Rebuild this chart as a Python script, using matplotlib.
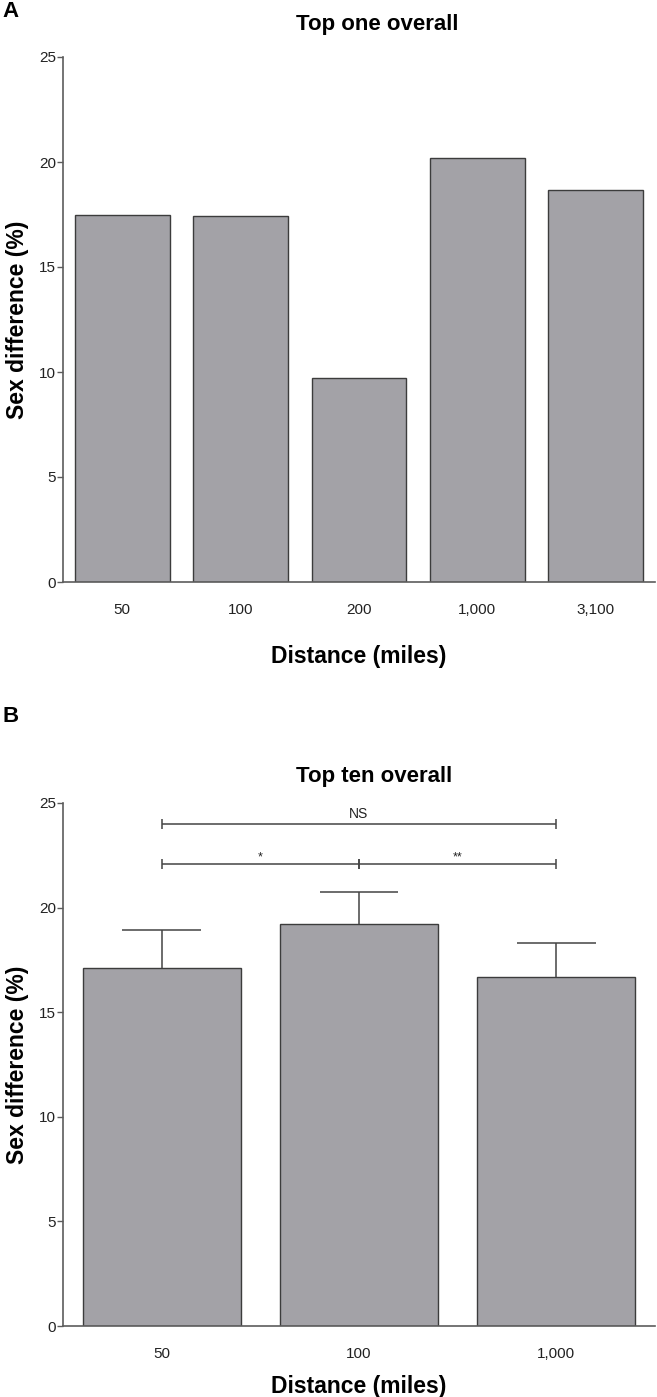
import numpy as np
import matplotlib
matplotlib.use('Agg')
from matplotlib import pyplot as plt

plt.rcParams['font.family'] = ['Liberation Sans', 'DejaVu Sans']

"""Panel A data: top one overall"""
dist_a = ['50', '100', '200', '1,000', '3,100']
diff_a = [17.5, 17.45, 9.72, 20.2, 18.65]

"""Panel B data: top ten overall (mean + upper SD)"""
dist_b = ['50', '100', '1,000']
diff_b = [17.1, 19.2, 16.68]
err_b = [1.85, 1.53, 1.62]

# significance brackets: (from, to, height, label)
brackets = [(0, 2, 24.0, 'NS'), (0, 1, 22.1, '*'), (1, 2, 22.1, '**')]

W, H = 657, 1397
bar_color = '#a3a2a7'
edge_color = '#3c3c3c'
axis_color = '#5c5c5c'

fig = plt.figure(figsize=(W / 100, H / 100), dpi=100)
axA = fig.add_axes([63 / W, 1 - 582 / H, 592 / W, 525 / H])
axB = fig.add_axes([63 / W, 1 - 1326 / H, 592 / W, 523 / H])


def style(ax, labels, xlab_y):
    ax.set_ylim(0, 25)
    ax.set_xlim(-0.5, len(labels) - 0.5)
    ax.set_yticks([0, 5, 10, 15, 20, 25])
    ax.set_xticks(np.arange(len(labels)))
    ax.set_xticklabels(labels)
    for s in ['top', 'right']:
        ax.spines[s].set_visible(False)
    for s in ['left', 'bottom']:
        ax.spines[s].set_color(axis_color)
        ax.spines[s].set_linewidth(1.2)
    ax.tick_params(axis='y', length=4, width=1, color=axis_color, pad=1,
                   labelsize=11, labelcolor='#222222')
    ax.tick_params(axis='x', length=0, pad=15, labelsize=11, labelcolor='#222222')
    ax.set_ylabel('Sex difference (%)', fontsize=16.5, fontweight='bold')
    ax.yaxis.set_label_coords(-0.058, 0.5)
    ax.set_xlabel('Distance (miles)', fontsize=16.5, fontweight='bold', va='top')
    ax.xaxis.set_label_coords(0.5, xlab_y)


"""Panel A"""
xa = np.arange(len(dist_a))
axA.bar(xa, diff_a, width=0.8, color=bar_color, edgecolor=edge_color, linewidth=1)
style(axA, dist_a, -0.12)

"""Panel B"""
xb = np.arange(len(dist_b))
vals = np.array(diff_b)
errs = np.array(err_b)
axB.bar(xb, vals, width=0.8, color=bar_color, edgecolor=edge_color, linewidth=1, zorder=2)
axB.vlines(xb, vals, vals + errs, color='#444444', linewidth=1.1, zorder=3)
axB.hlines(vals + errs, xb - 0.2, xb + 0.2, color='#444444', linewidth=1.1, zorder=3)

for x0, x1, h, lab in brackets:
    axB.hlines(h, x0, x1, color='#444444', linewidth=1.1)
    axB.vlines([x0, x1], h - 0.24, h + 0.24, color='#444444', linewidth=1.1)
    off = 0.29 if lab == 'NS' else 0.14
    axB.text((x0 + x1) / 2, h + off, lab, ha='center', va='baseline',
             fontsize=10 if lab == 'NS' else 9, color='#222222')
style(axB, dist_b, -0.094)

"""Titles and panel letters"""
fig.text(377 / W, 1 - 30 / H, 'Top one overall', ha='center', va='baseline',
         fontsize=16, fontweight='bold')
fig.text(374 / W, 1 - 782 / H, 'Top ten overall', ha='center', va='baseline',
         fontsize=16, fontweight='bold')
fig.text(2 / W, 1 - 17 / H, 'A', ha='left', va='baseline', fontsize=16, fontweight='bold')
fig.text(2 / W, 1 - 722 / H, 'B', ha='left', va='baseline', fontsize=16, fontweight='bold')

fig.savefig('out.png', dpi=100)
